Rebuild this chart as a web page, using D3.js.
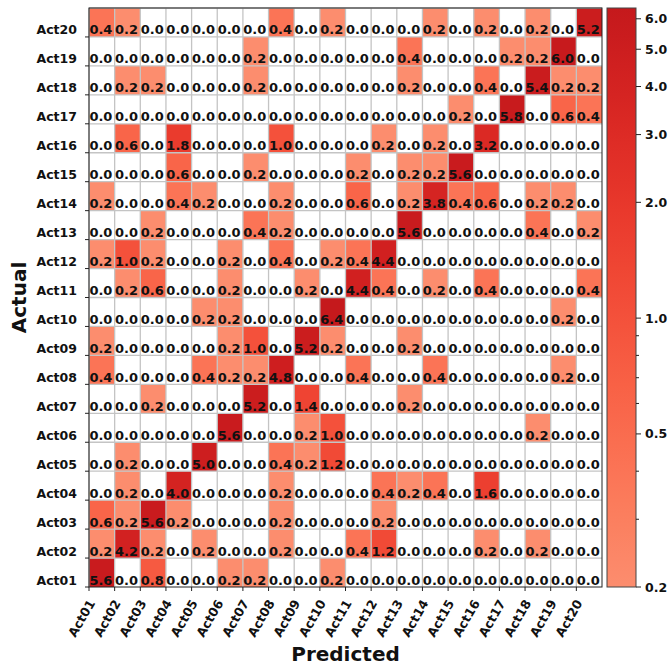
<!DOCTYPE html>
<html><head><meta charset="utf-8">
<script src="https://cdn.jsdelivr.net/npm/d3@7"></script>
<style>body{margin:0;background:#fff}svg{display:block}text{font-family:"DejaVu Sans",sans-serif;font-weight:bold}</style>
</head><body><div id="chart"></div>
<script>
const predictedLabels = ["Act01","Act02","Act03","Act04","Act05","Act06","Act07","Act08","Act09","Act10","Act11","Act12","Act13","Act14","Act15","Act16","Act17","Act18","Act19","Act20"];
const actualLabels = predictedLabels.slice();
// rows: actual Act01..Act20, columns: predicted Act01..Act20
const act01 = [5.6,0.0,0.8,0.0,0.0,0.2,0.2,0.0,0.0,0.2,0.0,0.0,0.0,0.0,0.0,0.0,0.0,0.0,0.0,0.0];
const act02 = [0.2,4.2,0.2,0.0,0.2,0.0,0.0,0.2,0.0,0.0,0.4,1.2,0.0,0.0,0.0,0.2,0.0,0.2,0.0,0.0];
const act03 = [0.6,0.2,5.6,0.2,0.0,0.0,0.0,0.2,0.0,0.0,0.0,0.2,0.0,0.0,0.0,0.0,0.0,0.0,0.0,0.0];
const act04 = [0.0,0.2,0.0,4.0,0.0,0.0,0.0,0.2,0.0,0.0,0.0,0.4,0.2,0.4,0.0,1.6,0.0,0.0,0.0,0.0];
const act05 = [0.0,0.2,0.0,0.0,5.0,0.0,0.0,0.4,0.2,1.2,0.0,0.0,0.0,0.0,0.0,0.0,0.0,0.0,0.0,0.0];
const act06 = [0.0,0.0,0.0,0.0,0.0,5.6,0.0,0.0,0.2,1.0,0.0,0.0,0.0,0.0,0.0,0.0,0.0,0.2,0.0,0.0];
const act07 = [0.0,0.0,0.2,0.0,0.0,0.0,5.2,0.0,1.4,0.0,0.0,0.0,0.2,0.0,0.0,0.0,0.0,0.0,0.0,0.0];
const act08 = [0.4,0.0,0.0,0.0,0.4,0.2,0.2,4.8,0.0,0.0,0.4,0.0,0.0,0.4,0.0,0.0,0.0,0.0,0.2,0.0];
const act09 = [0.2,0.0,0.0,0.0,0.0,0.2,1.0,0.0,5.2,0.2,0.0,0.0,0.2,0.0,0.0,0.0,0.0,0.0,0.0,0.0];
const act10 = [0.0,0.0,0.0,0.0,0.2,0.2,0.0,0.0,0.0,6.4,0.0,0.0,0.0,0.0,0.0,0.0,0.0,0.0,0.2,0.0];
const act11 = [0.0,0.2,0.6,0.0,0.0,0.2,0.0,0.0,0.2,0.0,4.4,0.4,0.0,0.2,0.0,0.4,0.0,0.0,0.0,0.4];
const act12 = [0.2,1.0,0.2,0.0,0.0,0.2,0.0,0.4,0.0,0.2,0.4,4.4,0.0,0.0,0.0,0.0,0.0,0.0,0.0,0.0];
const act13 = [0.0,0.0,0.2,0.0,0.0,0.0,0.4,0.2,0.0,0.0,0.0,0.0,5.6,0.0,0.0,0.0,0.0,0.4,0.0,0.2];
const act14 = [0.2,0.0,0.0,0.4,0.2,0.0,0.0,0.2,0.0,0.0,0.6,0.0,0.2,3.8,0.4,0.6,0.0,0.2,0.2,0.0];
const act15 = [0.0,0.0,0.0,0.6,0.0,0.0,0.2,0.0,0.0,0.0,0.2,0.0,0.2,0.2,5.6,0.0,0.0,0.0,0.0,0.0];
const act16 = [0.0,0.6,0.0,1.8,0.0,0.0,0.0,1.0,0.0,0.0,0.0,0.2,0.0,0.2,0.0,3.2,0.0,0.0,0.0,0.0];
const act17 = [0.0,0.0,0.0,0.0,0.0,0.0,0.0,0.0,0.0,0.0,0.0,0.0,0.0,0.0,0.2,0.0,5.8,0.0,0.6,0.4];
const act18 = [0.0,0.2,0.2,0.0,0.0,0.0,0.2,0.0,0.0,0.0,0.0,0.0,0.2,0.0,0.0,0.4,0.0,5.4,0.2,0.2];
const act19 = [0.0,0.0,0.0,0.0,0.0,0.0,0.2,0.0,0.0,0.0,0.0,0.0,0.4,0.0,0.0,0.0,0.2,0.2,6.0,0.0];
const act20 = [0.4,0.2,0.0,0.0,0.0,0.0,0.0,0.4,0.0,0.2,0.0,0.0,0.0,0.2,0.0,0.2,0.0,0.2,0.0,5.2];
const matrix = [act01,act02,act03,act04,act05,act06,act07,act08,act09,act10,act11,act12,act13,act14,act15,act16,act17,act18,act19,act20];
const colorbarMajorTicks = [0.2,0.5,1.0,2.0,3.0,4.0,5.0,6.0];
const colorbarMinorTicks = [0.3,0.4,0.6,0.7,0.8,0.9];
const colorDomain = [0.2, 6.4];

const W = 668, H = 665;
const L = 89, R = 602, T = 8, B = 587;
const svg = d3.select("#chart").append("svg").attr("width", W).attr("height", H);

const x = d3.scaleBand().domain(predictedLabels).range([L, R]).padding(0);
const y = d3.scaleBand().domain(actualLabels.slice().reverse()).range([T, B]).padding(0);
const logN = d3.scaleLog().domain(colorDomain).range([0, 1]).clamp(true);
const color = v => v <= 0 ? "#ffffff" : d3.interpolateReds(0.39 + 0.38 * logN(v));

const cells = [];
matrix.forEach((row, i) => row.forEach((v, j) => cells.push({a: actualLabels[i], p: predictedLabels[j], v})));

svg.append("g").selectAll("rect").data(cells).join("rect")
  .attr("x", d => x(d.p)).attr("y", d => y(d.a))
  .attr("width", x.bandwidth()).attr("height", y.bandwidth())
  .attr("fill", d => color(d.v));

// grid
const grid = svg.append("g").attr("stroke", "#c4c4c4").attr("stroke-width", 1.3);
predictedLabels.forEach(p => grid.append("line").attr("x1", x(p)).attr("x2", x(p)).attr("y1", T).attr("y2", B));
actualLabels.forEach(a => grid.append("line").attr("y1", y(a)).attr("y2", y(a)).attr("x1", L).attr("x2", R));

// annotations
svg.append("g").selectAll("text").data(cells).join("text")
  .attr("x", d => x(d.p) + 0.4).attr("y", d => y(d.a) + y.bandwidth() - 2.5)
  .attr("font-size", 13).attr("fill", "#111")
  .text(d => d.v.toFixed(1));

// frame
svg.append("rect").attr("x", L).attr("y", T).attr("width", R - L).attr("height", B - T)
  .attr("fill", "none").attr("stroke", "#222").attr("stroke-width", 1);

// y axis ticks at row bottoms
const yAx = svg.append("g");
actualLabels.forEach(a => {
  const yb = y(a) + y.bandwidth();
  yAx.append("line").attr("x1", L - 4).attr("x2", L).attr("y1", yb).attr("y2", yb).attr("stroke", "#222");
  yAx.append("text").attr("x", L - 12).attr("y", yb - 2.5).attr("text-anchor", "end")
    .attr("font-size", 12.5).attr("fill", "#111").text(a);
});
// x axis ticks at column left edges
const xAx = svg.append("g");
predictedLabels.forEach(p => {
  const xl = x(p);
  xAx.append("line").attr("x1", xl).attr("x2", xl).attr("y1", B).attr("y2", B + 4).attr("stroke", "#222");
  xAx.append("text").attr("transform", `translate(${xl + 6.5},${B + 16}) rotate(-60)`)
    .attr("text-anchor", "end").attr("font-size", 12.5).attr("fill", "#111").text(p);
});

svg.append("text").attr("x", (L + R) / 2).attr("y", 661).attr("text-anchor", "middle")
  .attr("font-size", 20).attr("fill", "#111").text("Predicted");
svg.append("text").attr("transform", `translate(26,${(T + B) / 2}) rotate(-90)`).attr("text-anchor", "middle")
  .attr("font-size", 20).attr("fill", "#111").text("Actual");

// colorbar
const cbL = 607, cbR = 636;
const cbScale = d3.scaleLog().domain(colorDomain).range([B, T]);
const defs = svg.append("defs");
const grad = defs.append("linearGradient").attr("id", "cbg").attr("x1", 0).attr("y1", 1).attr("x2", 0).attr("y2", 0);
d3.range(0, 1.0001, 0.05).forEach(t => grad.append("stop").attr("offset", t)
  .attr("stop-color", d3.interpolateReds(0.39 + 0.38 * t)));
svg.append("rect").attr("x", cbL).attr("y", T).attr("width", cbR - cbL).attr("height", B - T)
  .attr("fill", "url(#cbg)").attr("stroke", "#444").attr("stroke-width", 1);
const cbAx = svg.append("g");
colorbarMajorTicks.forEach(v => {
  const yy = cbScale(v);
  cbAx.append("line").attr("x1", cbR).attr("x2", cbR + 5).attr("y1", yy).attr("y2", yy).attr("stroke", "#222");
  cbAx.append("text").attr("x", cbR + 9).attr("y", yy + 4.5).attr("font-size", 12.5).attr("fill", "#111").text(v.toFixed(1));
});
colorbarMinorTicks.forEach(v => {
  const yy = cbScale(v);
  cbAx.append("line").attr("x1", cbR).attr("x2", cbR + 3).attr("y1", yy).attr("y2", yy).attr("stroke", "#222");
});
</script></body></html>
